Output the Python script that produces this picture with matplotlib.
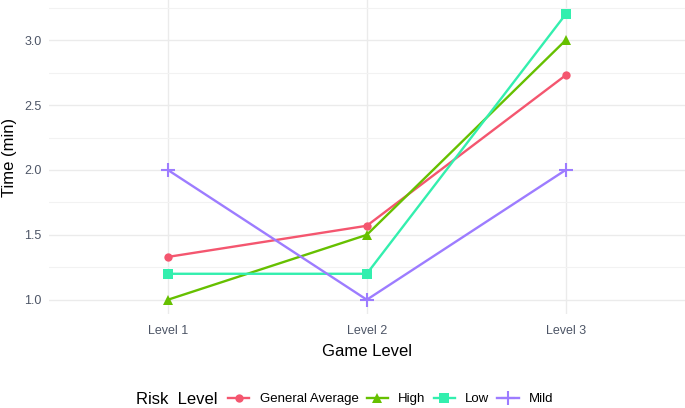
import matplotlib.pyplot as plt
import numpy as np
from matplotlib.offsetbox import HPacker

plt.rcParams['font.family'] = ['Liberation Sans', 'DejaVu Sans']

levels = ['Level 1', 'Level 2', 'Level 3']
general_avg = [1.33, 1.57, 2.73]
high = [1.0, 1.5, 3.0]
low = [1.2, 1.2, 3.2]
mild = [2.0, 1.0, 2.0]

series = [
    ('General Average', general_avg, '#F4566F', 'o', 6),
    ('High', high, '#66C000', '^', 7),
    ('Low', low, '#33EFAE', 's', 6.5),
    ('Mild', mild, '#9D7CFF', '+', 10),
]

fig = plt.figure(figsize=(6.85, 4.08), dpi=100)
ax = fig.add_axes([48.6 / 685, 1 - 314 / 408, (685 - 48.6) / 685, 314 / 408])

x = np.arange(1, len(levels) + 1)
handles = []
for name, vals, col, mk, ms in series:
    h, = ax.plot(x, vals, color=col, marker=mk, markersize=ms, linewidth=1.7,
                 markeredgewidth=1.5 if mk == '+' else 0, label=name)
    handles.append(h)

ax.set_xlim(0.4, 3.6)
ax.set_ylim(0.89, 3.31)
ax.set_xticks(x)
ax.set_xticklabels(levels)
ax.set_yticks([1.0, 1.5, 2.0, 2.5, 3.0])
ax.set_yticklabels(['1.0', '1.5', '2.0', '2.5', '3.0'])
ax.set_yticks([1.25, 1.75, 2.25, 2.75, 3.25], minor=True)
ax.grid(True, which='major', color='#EBEBEB', linewidth=1.0)
ax.grid(True, which='minor', axis='y', color='#F2F2F2', linewidth=0.8)
ax.set_axisbelow(True)
for s in ax.spines.values():
    s.set_visible(False)
ax.tick_params(which='both', length=0, labelsize=9, labelcolor='#4D5566')
ax.tick_params(axis='x', pad=8)
ax.tick_params(axis='y', pad=5)

ax.set_xlabel('Game Level', fontsize=12, labelpad=5)
ax.set_ylabel('Time (min)', fontsize=12, labelpad=5)

leg = fig.legend(handles=handles, loc='lower center', ncol=4, frameon=False,
                 title='Risk  Level', fontsize=9.5, title_fontsize=12,
                 bbox_to_anchor=(0.503, -0.026), handlelength=1.6,
                 columnspacing=0.6, handletextpad=0.8)
# put title inline with entries
title_box = leg._legend_title_box
entries = leg._legend_handle_box
leg._legend_box._children = [HPacker(pad=0, sep=8, children=[title_box, entries], align='center')]

fig.savefig('out.png', dpi=100)
